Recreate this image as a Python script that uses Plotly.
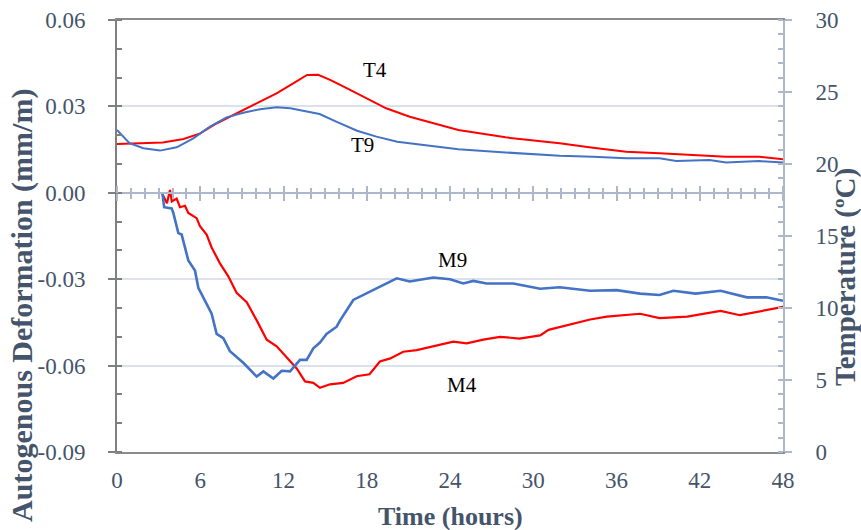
import plotly.graph_objects as go

# Temperature histories (hours, degC)
t_T4 = [0, 1.9, 3.3, 4.8, 6.0, 7.2, 8.6, 10.1, 11.5, 12.7, 13.7, 14.5, 15.4, 16.8, 18.2,
        19.4, 21.1, 22.8, 24.6, 28.0, 31.9, 34.3, 36.7, 39.1, 41.5, 43.9, 46.3, 48]
T4 = [21.39, 21.48, 21.5, 21.74, 22.13, 22.83, 23.52, 24.21, 24.9, 25.6, 26.18, 26.2, 25.83,
      25.14, 24.44, 23.87, 23.28, 22.83, 22.36, 21.85, 21.44, 21.13, 20.85, 20.74, 20.63,
      20.51, 20.51, 20.33]

t_T9 = [0, 0.9, 1.9, 3.1, 4.3, 5.5, 6.7, 7.9, 9.1, 10.3, 11.5, 12.5, 13.4, 14.6, 15.8, 17.3,
        18.7, 20.2, 22.1, 24.6, 28.0, 31.9, 34.3, 36.7, 39.1, 40.3, 42.7, 43.9, 46.3, 48]
T9 = [22.36, 21.44, 21.09, 20.93, 21.16, 21.78, 22.59, 23.24, 23.56, 23.8, 23.94, 23.87, 23.7,
      23.47, 22.94, 22.31, 21.9, 21.55, 21.32, 21.02, 20.8, 20.58, 20.51, 20.4, 20.4, 20.21,
      20.28, 20.1, 20.2, 20.1]

# Autogenous deformation histories (hours, mm/m)
t_M9 = [3.27, 3.4, 3.94, 4.06, 4.42, 4.66, 5.14, 5.62, 5.86, 6.46, 6.82, 7.18, 7.66, 8.14, 9.1,
        10.07, 10.55, 11.27, 11.87, 12.47, 13.19, 13.67, 14.15, 14.63, 15.1, 15.83, 16.07,
        17.03, 18.0, 18.95, 20.16, 21.1, 22.8, 24.0, 24.96, 25.68, 26.64, 28.56, 30.5, 31.9,
        34.1, 36.0, 37.7, 39.1, 40.1, 41.7, 43.5, 45.4, 46.8, 48]
M9 = [0, -0.005, -0.0054, -0.007, -0.014, -0.0145, -0.0235, -0.027, -0.033, -0.0385, -0.042,
      -0.049, -0.0505, -0.055, -0.059, -0.0638, -0.062, -0.0645, -0.0618, -0.062, -0.058,
      -0.058, -0.054, -0.052, -0.049, -0.0465, -0.0444, -0.0372, -0.0348, -0.0326, -0.0297,
      -0.0308, -0.0294, -0.030, -0.0315, -0.0306, -0.0315, -0.0315, -0.0333, -0.0328, -0.034,
      -0.0338, -0.035, -0.0355, -0.034, -0.035, -0.034, -0.0363, -0.0363, -0.0375]

t_M4 = [3.22, 3.46, 3.6, 3.82, 3.95, 4.3, 4.54, 4.9, 5.14, 5.74, 5.98, 6.46, 6.82, 7.42, 8.02,
        8.62, 9.35, 10.07, 10.79, 11.51, 12.23, 12.95, 13.55, 14.15, 14.63, 15.35, 16.3, 17.27,
        18.2, 18.95, 19.7, 20.63, 21.6, 22.8, 24.24, 25.2, 26.4, 27.6, 29.0, 30.5, 31.1, 34.1,
        35.3, 37.7, 39.1, 41.1, 43.5, 44.9, 46.3, 47.8, 48]
M4 = [0, -0.002, -0.0036, 0.001, -0.003, -0.002, -0.005, -0.0045, -0.007, -0.0088, -0.0116,
      -0.0145, -0.019, -0.0245, -0.029, -0.0347, -0.038, -0.0443, -0.051, -0.0533, -0.057,
      -0.061, -0.0655, -0.066, -0.0677, -0.0665, -0.066, -0.0637, -0.063, -0.0586, -0.0575,
      -0.0552, -0.0546, -0.0534, -0.0517, -0.0523, -0.051, -0.050, -0.0506, -0.0495, -0.0476,
      -0.044, -0.043, -0.042, -0.0435, -0.043, -0.041, -0.0425, -0.0413, -0.0398, -0.0396]

x_ticks = [0, 6, 12, 18, 24, 30, 36, 42, 48]
def_ticks = [-0.09, -0.06, -0.03, 0.00, 0.03, 0.06]
def_labels = ["-0.09", "-0.06", "-0.03", "0.00", "0.03", "0.06"]
temp_ticks = [0, 5, 10, 15, 20, 25, 30]

labels = [("T4", 18.6, 0.0426), ("T9", 17.66, 0.0166), ("M9", 24.2, -0.0233), ("M4", 24.86, -0.0667)]

RED = "#FF0000"
BLUE = "#4472C4"
SLATE = "#44546A"
DARK_AX = "#7F7F7F"
LIGHT_AX = "#ADB9CA"
FONT = "Liberation Serif"

fig = go.Figure()
fig.add_trace(go.Scatter(x=t_T4, y=T4, mode="lines", line=dict(color=RED, width=2), yaxis="y2", name="T4"))
fig.add_trace(go.Scatter(x=t_T9, y=T9, mode="lines", line=dict(color=BLUE, width=2), yaxis="y2", name="T9"))
fig.add_trace(go.Scatter(x=t_M4, y=M4, mode="lines", line=dict(color=RED, width=2.2), name="M4"))
fig.add_trace(go.Scatter(x=t_M9, y=M9, mode="lines", line=dict(color=BLUE, width=2.6), name="M9"))
# helper traces so the zero-level time axes are rendered
fig.add_trace(go.Scatter(x=[None], y=[None], xaxis="x2", showlegend=False, hoverinfo="skip"))
fig.add_trace(go.Scatter(x=[None], y=[None], xaxis="x3", showlegend=False, hoverinfo="skip"))

zero_pos = (0 - def_ticks[0]) / (def_ticks[-1] - def_ticks[0])

# curve labels
for text, xv, yv in labels:
    fig.add_annotation(x=xv, y=yv, xref="x", yref="y", text=text, showarrow=False,
                       font=dict(family=FONT, size=21, color="#000000"))

# axis titles placed as paper-anchored text
fig.add_annotation(x=0.5, y=-0.15, xref="paper", yref="paper", text="<b>Time (hours)</b>",
                   showarrow=False, xanchor="center", yanchor="middle",
                   font=dict(family=FONT, size=26, color=SLATE))
fig.add_annotation(x=-0.143, y=0.34, xref="paper", yref="paper",
                   text="<b>Autogenous Deformation (mm/m)</b>", textangle=-90,
                   showarrow=False, xanchor="center", yanchor="middle",
                   font=dict(family=FONT, size=30, color=SLATE))
fig.add_annotation(x=1.093, y=0.405, xref="paper", yref="paper",
                   text="<b>Temperature (ºC)</b>", textangle=-90,
                   showarrow=False, xanchor="center", yanchor="middle",
                   font=dict(family=FONT, size=29, color=SLATE))

fig.update_layout(
    width=861, height=530,
    margin=dict(l=117, r=78, t=20, b=78, autoexpand=False),
    paper_bgcolor="white", plot_bgcolor="white",
    showlegend=False,
    font=dict(family=FONT, color=SLATE),
    xaxis=dict(
        range=[0, 48], tickvals=x_ticks, ticks="", showgrid=False, zeroline=False,
        showline=True, linecolor="#8C8C8C", linewidth=2, mirror=True, automargin=False,
        tickfont=dict(family=FONT, size=23, color=SLATE), ticklabelstandoff=6,
    ),
    xaxis2=dict(
        range=[0, 48], overlaying="x", anchor="free", position=zero_pos, side="bottom",
        showline=True, linecolor=LIGHT_AX, linewidth=2, showgrid=False, zeroline=False,
        tickvals=x_ticks, ticks="outside", ticklen=7, tickwidth=2, tickcolor=LIGHT_AX,
        showticklabels=False, automargin=False,
        minor=dict(dtick=1, ticks="outside", ticklen=5, tickwidth=1.5, tickcolor=LIGHT_AX),
    ),
    xaxis3=dict(
        range=[0, 48], overlaying="x", anchor="free", position=zero_pos, side="top",
        showline=False, showgrid=False, zeroline=False,
        tickvals=x_ticks, ticks="outside", ticklen=7, tickwidth=2, tickcolor=LIGHT_AX,
        showticklabels=False, automargin=False,
        minor=dict(dtick=1, ticks="outside", ticklen=5, tickwidth=1.5, tickcolor=LIGHT_AX),
    ),
    yaxis=dict(
        range=[def_ticks[0], def_ticks[-1]], tickvals=def_ticks, ticktext=def_labels,
        showline=True, linecolor=DARK_AX, linewidth=2, zeroline=False, automargin=False,
        showgrid=True, gridcolor="#DCE2EC", gridwidth=1.5,
        ticks="outside", ticklen=7, tickwidth=2, tickcolor=DARK_AX,
        minor=dict(dtick=0.01, tick0=0, ticks="inside", ticklen=5, tickwidth=1.5, tickcolor=DARK_AX, showgrid=False),
        tickfont=dict(family=FONT, size=23, color=SLATE), ticklabelstandoff=18,
    ),
    yaxis2=dict(
        range=[temp_ticks[0], temp_ticks[-1]], tickvals=temp_ticks, overlaying="y", side="right",
        showline=True, linecolor=LIGHT_AX, linewidth=2, zeroline=False, showgrid=False, automargin=False,
        ticks="outside", ticklen=7, tickwidth=2, tickcolor=LIGHT_AX,
        minor=dict(dtick=1, ticks="inside", ticklen=5, tickwidth=1.5, tickcolor=LIGHT_AX),
        tickfont=dict(family=FONT, size=23, color=SLATE), ticklabelstandoff=19,
    ),
)

fig.write_html("out.html")
